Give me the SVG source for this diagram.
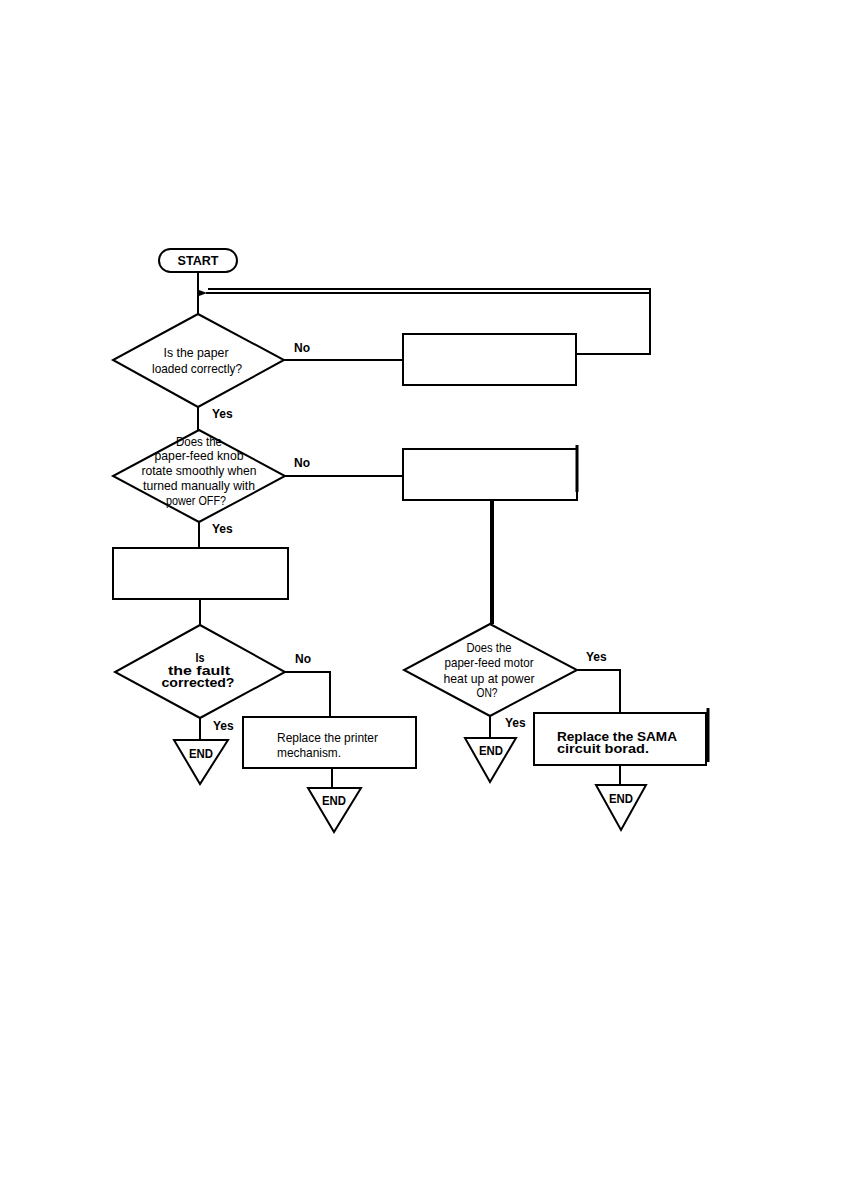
<svg xmlns="http://www.w3.org/2000/svg" width="861" height="1181" viewBox="0 0 861 1181">
<style>
.s{fill:#fff;stroke:#000;stroke-width:2}
.c{fill:none;stroke:#000;stroke-width:2}
.t{font-family:"Liberation Sans",Arial,sans-serif;font-size:13px;fill:#000}
.b{font-family:"Liberation Sans",Arial,sans-serif;font-size:12px;font-weight:bold;fill:#000}
</style>
<defs>
<marker id="ah" markerWidth="8" markerHeight="6" refX="1" refY="3" orient="auto" markerUnits="userSpaceOnUse">
<path d="M8,0 L0,3 L8,6 Z" fill="#000"/>
</marker>
</defs>
<rect width="861" height="1181" fill="#fff"/>
<g id="connectors">
<line class="c" x1="198" y1="272" x2="198" y2="314"/>
<path class="c" d="M577,354 H650 V289 H208"/>
<line class="c" x1="650" y1="293" x2="206" y2="293" marker-end="url(#ah)"/>
<line class="c" x1="284" y1="360" x2="403" y2="360"/>
<line class="c" x1="198" y1="407" x2="198" y2="430"/>
<line class="c" x1="285" y1="476" x2="403" y2="476"/>
<line class="c" x1="199" y1="522" x2="199" y2="548"/>
<line class="c" x1="200" y1="599" x2="200" y2="625"/>
<line stroke="#000" stroke-width="4" x1="492" y1="500" x2="492" y2="624"/>
<path class="c" d="M285,672 H330 V717"/>
<line class="c" x1="200" y1="718" x2="200" y2="740"/>
<line class="c" x1="332" y1="768" x2="332" y2="788"/>
<path class="c" d="M577,670 H620 V713"/>
<line class="c" x1="490" y1="716" x2="490" y2="738"/>
<line class="c" x1="620" y1="765" x2="620" y2="785"/>
</g>
<g id="start">
<rect class="s" x="159" y="249" width="78" height="23" rx="11.5"/>
<text class="b" x="198" y="265" text-anchor="middle" textLength="41" lengthAdjust="spacingAndGlyphs">START</text>
</g>
<g id="q1">
<polygon class="s" points="198,314 284,360 198,407 113,360"/>
<text class="t" x="196" y="357" text-anchor="middle" textLength="65" lengthAdjust="spacingAndGlyphs">Is the paper</text>
<text class="t" x="197" y="373" text-anchor="middle" textLength="90" lengthAdjust="spacingAndGlyphs">loaded correctly?</text>
<text class="b" x="294" y="352">No</text>
<text class="b" x="212" y="418">Yes</text>
</g>
<g id="box1">
<rect class="s" x="403" y="334" width="173" height="51"/>
</g>
<g id="q2">
<polygon class="s" points="199,430 285,476 199,522 113,476"/>
<text class="t" x="199" y="446" text-anchor="middle" textLength="46" lengthAdjust="spacingAndGlyphs">Does the</text>
<text class="t" x="199" y="460" text-anchor="middle" textLength="89" lengthAdjust="spacingAndGlyphs">paper-feed knob</text>
<text class="t" x="199" y="475" text-anchor="middle" textLength="115" lengthAdjust="spacingAndGlyphs">rotate smoothly when</text>
<text class="t" x="199" y="490" text-anchor="middle" textLength="112" lengthAdjust="spacingAndGlyphs">turned manually with</text>
<text class="t" x="196" y="505" text-anchor="middle" textLength="60" lengthAdjust="spacingAndGlyphs">power OFF?</text>
<text class="b" x="294" y="467">No</text>
<text class="b" x="212" y="533">Yes</text>
</g>
<g id="box2">
<rect class="s" x="403" y="449" width="174" height="51"/>
<line stroke="#000" stroke-width="3" x1="577" y1="445" x2="577" y2="492"/>
</g>
<g id="box3">
<rect class="s" x="113" y="548" width="175" height="51"/>
</g>
<g id="q3">
<polygon class="s" points="200,625 285,672 200,718 115,672"/>
<text class="b" x="200" y="662" text-anchor="middle" textLength="9" lengthAdjust="spacingAndGlyphs">Is</text>
<text class="b" x="199" y="675" text-anchor="middle" textLength="62" lengthAdjust="spacingAndGlyphs">the fault</text>
<text class="b" x="198" y="687" text-anchor="middle" textLength="73" lengthAdjust="spacingAndGlyphs">corrected?</text>
<text class="b" x="295" y="663">No</text>
<text class="b" x="213" y="730">Yes</text>
</g>
<g id="box4">
<rect class="s" x="243" y="717" width="173" height="51"/>
<text class="t" x="277" y="742" textLength="101" lengthAdjust="spacingAndGlyphs">Replace the printer</text>
<text class="t" x="277" y="757" textLength="64" lengthAdjust="spacingAndGlyphs">mechanism.</text>
</g>
<g id="end1">
<polygon class="s" points="174,740 228,740 200,784"/>
<text class="b" x="201" y="758" text-anchor="middle" font-size="11" textLength="24" lengthAdjust="spacingAndGlyphs">END</text>
</g>
<g id="end2">
<polygon class="s" points="308,788 361,788 334,832"/>
<text class="b" x="334" y="805" text-anchor="middle" font-size="11" textLength="24" lengthAdjust="spacingAndGlyphs">END</text>
</g>
<g id="q4">
<polygon class="s" points="490,624 577,670 490,716 404,670"/>
<text class="t" x="489" y="652" text-anchor="middle" textLength="45" lengthAdjust="spacingAndGlyphs">Does the</text>
<text class="t" x="489" y="667" text-anchor="middle" textLength="89" lengthAdjust="spacingAndGlyphs">paper-feed motor</text>
<text class="t" x="489" y="683" text-anchor="middle" textLength="91" lengthAdjust="spacingAndGlyphs">heat up at power</text>
<text class="t" x="487" y="697" text-anchor="middle" textLength="21" lengthAdjust="spacingAndGlyphs">ON?</text>
<text class="b" x="586" y="661">Yes</text>
<text class="b" x="505" y="727">Yes</text>
</g>
<g id="box5">
<rect class="s" x="534" y="713" width="172" height="52"/>
<line stroke="#000" stroke-width="3" x1="708" y1="708" x2="708" y2="762"/>
<text class="b" x="557" y="741" textLength="120" lengthAdjust="spacingAndGlyphs">Replace the SAMA</text>
<text class="b" x="557" y="753" textLength="92" lengthAdjust="spacingAndGlyphs">circuit borad.</text>
</g>
<g id="end3">
<polygon class="s" points="465,738 516,738 490,782"/>
<text class="b" x="491" y="755" text-anchor="middle" font-size="11" textLength="24" lengthAdjust="spacingAndGlyphs">END</text>
</g>
<g id="end4">
<polygon class="s" points="596,785 646,785 621,830"/>
<text class="b" x="621" y="803" text-anchor="middle" font-size="11" textLength="24" lengthAdjust="spacingAndGlyphs">END</text>
</g>
</svg>
